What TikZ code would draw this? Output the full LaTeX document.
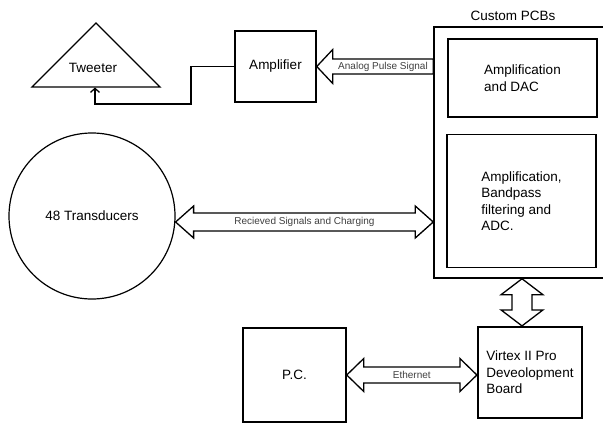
\documentclass[tikz,border=0pt]{standalone}
\usepackage{fontspec}
\setmainfont{Liberation Sans}
\usetikzlibrary{arrows.meta,calc}

% fat arrows: horizontal double (tips #1,#2), vertical double (top #1, bottom #2), single pointing left (base #1, tip #2)
% #3 head length, #4 shaft half width, #5 head half width
\newcommand{\fatdblh}[5]{%
  \draw[fat] let \p1=(#1), \p2=(#2) in
    (\p1) -- (\x1+#3,\y1+#5) -- (\x1+#3,\y1+#4) -- (\x2-#3,\y1+#4) -- (\x2-#3,\y1+#5) -- (\x2,\y1)
    -- (\x2-#3,\y1-#5) -- (\x2-#3,\y1-#4) -- (\x1+#3,\y1-#4) -- (\x1+#3,\y1-#5) -- cycle;}
\newcommand{\fatdblv}[5]{%
  \draw[fat] let \p1=(#1), \p2=(#2) in
    (\p1) -- (\x1+#5,\y1-#3) -- (\x1+#4,\y1-#3) -- (\x1+#4,\y2+#3) -- (\x1+#5,\y2+#3) -- (\x1,\y2)
    -- (\x1-#5,\y2+#3) -- (\x1-#4,\y2+#3) -- (\x1-#4,\y1-#3) -- (\x1-#5,\y1-#3) -- cycle;}
\newcommand{\fatleft}[5]{%
  \draw[fat] let \p1=(#1), \p2=(#2) in
    (\p2) -- (\x2+#3,\y2+#5) -- (\x2+#3,\y2+#4) -- (\x1,\y2+#4) -- (\x1,\y2-#4)
    -- (\x2+#3,\y2-#4) -- (\x2+#3,\y2-#5) -- cycle;}

\begin{document}
\begin{tikzpicture}[x=1pt,y=-1pt,
  font=\fontsize{13.5}{16.5}\selectfont,
  box/.style={draw,line width=1.5pt,inner sep=2pt},
  fat/.style={draw,line width=1.3pt,line join=miter,fill=white},
  wire/.style={draw,line width=1.3pt},
  sig/.style={font=\fontsize{10}{12}\selectfont,text=black!75,inner sep=0pt}]
\useasboundingbox (0,0) rectangle (603,431);
\clip (0,0) rectangle (603,431);
\node[box,minimum width=176pt,minimum height=251pt] (pcbs) at (522,152.5) {};
\node (pcbslabel) at (513,16) {Custom PCBs};
\node[box,minimum width=149pt,minimum height=78pt,align=left] (dac) at (522.5,78) {Amplification\\and DAC};
\node[box,minimum width=149pt,minimum height=133pt,align=left] (adc) at (521.5,201) {Amplification,\\Bandpass\\filtering and\\ADC.};
\node[box,minimum width=81pt,minimum height=71pt] (amp) at (275.5,66.5) {Amplifier};
\draw[line width=1.3pt,line join=miter] (96,23) -- (160,87) -- (32,87) -- cycle;
\node (tweeter) at (93,68) {Tweeter};
\coordinate (twbase) at (95,87.5);
\node[circle,draw,line width=1.2pt,minimum size=166pt] (trans) at (92,216) {48 Transducers};
\node[box,minimum width=103pt,minimum height=94pt] (pc) at (294.5,375) {P.C.};
\node[box,line width=2.2pt,minimum width=104pt,minimum height=91pt,align=left] (virtex) at (530,372.5) {Virtex II Pro\\Deveolopment\\Board};
\draw[wire,-{Straight Barb[length=4pt,width=9pt]}] (amp.west) -| (191,104) -| (twbase);
\coordinate (apsbase) at (amp.east -| pcbs.west);
\fatleft{apsbase}{amp.east}{16pt}{7.5pt}{17pt}
\node[sig] (apslabel) at ($(amp.east)!0.5!(apsbase)+(8,0)$) {Analog Pulse Signal};
\coordinate (rxl) at ($(trans.east)+(0,6)$);
\coordinate (rxr) at (rxl -| pcbs.west);
\fatdblh{rxl}{rxr}{18pt}{9pt}{16pt}
\node[sig] (rxlabel) at ($(rxl)!0.5!(rxr)$) {Recieved Signals and Charging};
\coordinate (ethr) at (pc.east -| virtex.west);
\fatdblh{pc.east}{ethr}{17pt}{8pt}{16.5pt}
\node[sig] (ethlabel) at ($(pc.east)!0.5!(ethr)$) {Ethernet};
\coordinate (busb) at (pcbs.south |- virtex.north);
\fatdblv{pcbs.south}{busb}{16pt}{10pt}{21pt}
\end{tikzpicture}
\end{document}
